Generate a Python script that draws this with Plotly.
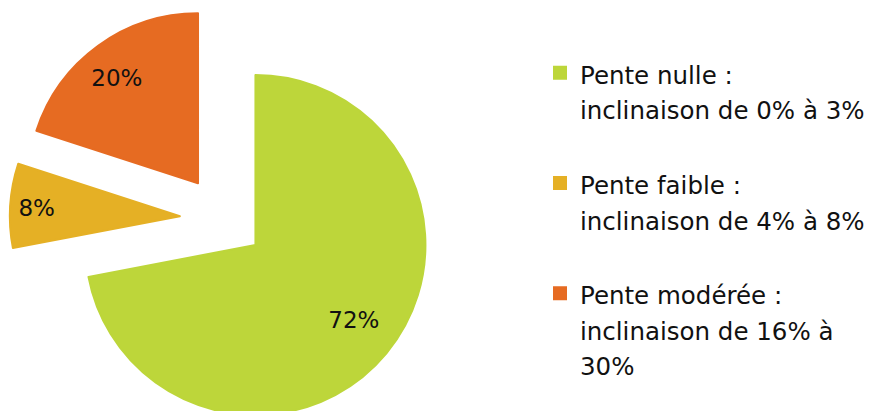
import textwrap
import plotly.graph_objects as go

# ---- data ----
categories = ["Pente nulle :", "Pente faible :", "Pente modérée :"]
ranges = ["inclinaison de 0% à 3%", "inclinaison de 4% à 8%", "inclinaison de 16% à 30%"]
values = [72, 8, 20]

# ---- style ----
colors = ["#BDD63A", "#E5B025", "#E66B22"]
pulls = [0.24, 0.26, 0.26]
FONT = "DejaVu Sans"
H = 440
LEG_TEXT = 24.5
NB = "\u00a0"

# legend labels: wrapped lines, each item padded to three lines
def make_label(cat, rng):
    lines = [cat] + textwrap.wrap(rng, width=22)
    while len(lines) < 3:
        lines.append(NB)
    return "<br>".join(f"<span style='font-size:{LEG_TEXT}px'>{l}</span>" for l in lines)

labels = [make_label(c, r) for c, r in zip(categories, ranges)]

# inside-label nudges (non-breaking padding) to mimic the reference placement
def pad(px):
    return f"<span style='font-size:{px}px'>{NB}</span>"

text_templates = [
    pad(36) + "<br>" + NB * 9 + "%{percent:.0%}",
    "%{percent:.0%}" + NB * 2,
    "%{percent:.0%}" + NB * 5 + "<br>" + pad(55),
]

fig = go.Figure(go.Pie(
    labels=labels,
    values=values,
    sort=False,
    direction="clockwise",
    rotation=0,
    pull=pulls,
    marker=dict(colors=colors, line=dict(color=colors, width=2)),
    texttemplate=text_templates,
    textposition="inside",
    insidetextorientation="horizontal",
    textfont=dict(family=FONT, size=23, color="#111111"),
    hoverinfo="skip",
    domain=dict(x=[0.011239, 0.502523], y=[0.01545, 0.98909]),
))

fig.update_layout(
    width=872,
    height=H,
    margin=dict(l=0, r=0, t=0, b=0),
    paper_bgcolor="white",
    plot_bgcolor="white",
    showlegend=True,
    legend=dict(
        x=540 / 872, xanchor="left",
        y=1 - 48.4 / H, yanchor="top",
        font=dict(family=FONT, size=27.5, color="#111111"),
        valign="top",
        bgcolor="rgba(0,0,0,0)",
    ),
)

fig.write_html(
    "out.html",
    post_script="document.documentElement.style.overflow='hidden';document.body.style.overflow='hidden';",
)
